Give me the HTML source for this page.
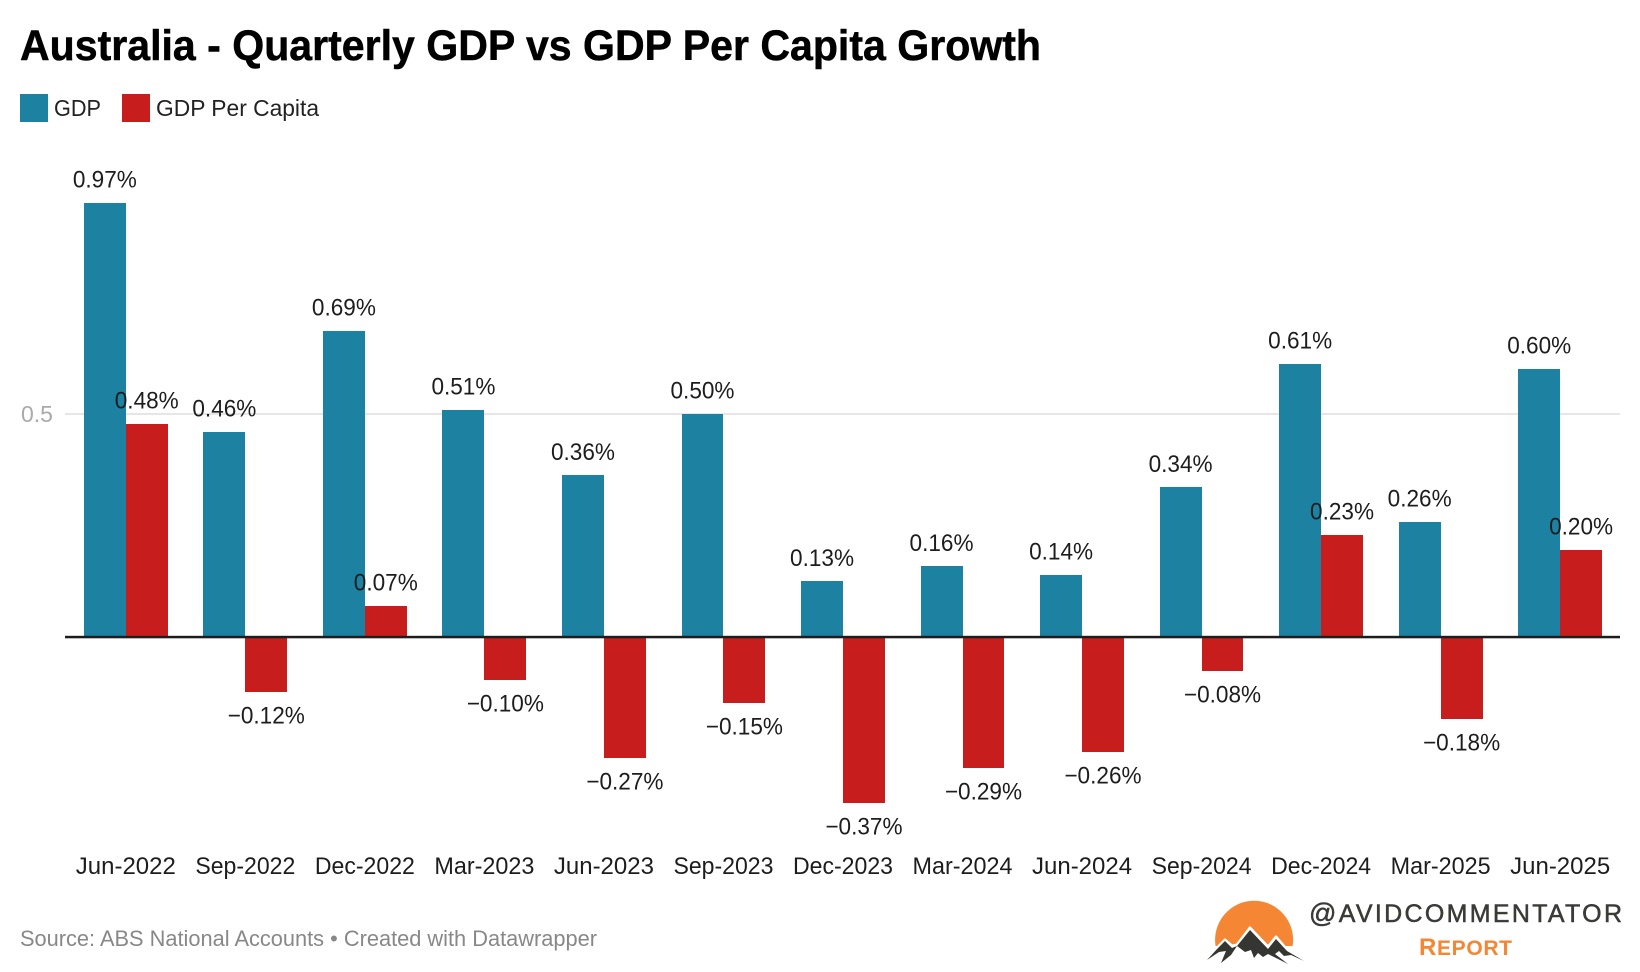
<!DOCTYPE html>
<html lang="en">
<head>
<meta charset="utf-8">
<title>Australia - Quarterly GDP vs GDP Per Capita Growth</title>
<style>
html,body{margin:0;padding:0;background:#fff;width:1640px;height:972px;overflow:hidden}
svg{display:block}
text{font-family:"Liberation Sans",sans-serif}
</style>
</head>
<body>
<svg id="chart" xmlns="http://www.w3.org/2000/svg" width="1640" height="972" viewBox="0 0 1640 972">
  <rect x="0" y="0" width="1640" height="972" fill="#fff"/>
  <text x="20" y="60" font-size="43" font-weight="700" fill="#000" stroke="#000" stroke-width="0.5" textLength="1021" lengthAdjust="spacingAndGlyphs">Australia - Quarterly GDP vs GDP Per Capita Growth</text>
  <g>
    <rect x="20" y="94" width="28" height="28" fill="#1d81a2"/>
    <text x="54" y="116" font-size="23" fill="#222" textLength="47" lengthAdjust="spacingAndGlyphs">GDP</text>
    <rect x="122" y="94" width="28" height="28" fill="#c71e1d"/>
    <text x="156" y="116" font-size="23" fill="#222" textLength="163" lengthAdjust="spacingAndGlyphs">GDP Per Capita</text>
  </g>
  <g id="grid"></g>
  <g id="bars"></g>
  <g id="axis"></g>
  <g id="labels"></g>
  <text x="20" y="946" font-size="22" fill="#888" textLength="577" lengthAdjust="spacingAndGlyphs">Source: ABS National Accounts • Created with Datawrapper</text>
  <g>
    <path d="M1215.6 946 A39 39 0 1 1 1292.6 946 Z" fill="#f58634"/>
    <path d="M1207 960 L1218 947 L1225 940 L1232 946 L1237 945 L1250 928 L1268 947 L1276 937 L1287 950 L1304 961 L1288 964 L1254 958 L1221 963 Z" fill="#fff" stroke="#fff" stroke-width="3" stroke-linejoin="round"/>
    <path d="M1207 960 L1218 948 L1225 941 L1232 948 L1237 946 L1231 955 L1221 963 L1226 951 L1219 952 Z" fill="#353632"/>
    <path d="M1237 946 L1250 930 L1268 949 L1276 939 L1287 951 L1304 961 L1291 955 L1284 956 L1279 951 L1275 954 L1288 964 L1268 954 L1263 957 L1258 953 L1254 958 L1251 950 L1245 952 L1241 949 Z" fill="#353632"/>
    <text x="1309" y="922" fill="#3a3a38" stroke="#3a3a38" stroke-width="0.5" textLength="313" lengthAdjust="spacing"><tspan font-size="27">@</tspan><tspan font-size="25">AVIDCOMMENTATOR</tspan></text>
    <text x="1419" y="955" font-weight="700" fill="#f58634" textLength="93" lengthAdjust="spacing"><tspan font-size="24">R</tspan><tspan font-size="21">EPORT</tspan></text>
  </g>
</svg>
<script>
const categories = ["Jun-2022","Sep-2022","Dec-2022","Mar-2023","Jun-2023","Sep-2023","Dec-2023","Mar-2024","Jun-2024","Sep-2024","Dec-2024","Mar-2025","Jun-2025"];
const gdpValues = [0.973,0.46,0.686,0.509,0.363,0.5,0.125,0.159,0.139,0.336,0.612,0.258,0.601];
const perCapitaValues = [0.478,-0.123,0.07,-0.096,-0.271,-0.148,-0.372,-0.294,-0.258,-0.076,0.229,-0.184,0.196];
const yTicks = [0.5];

const SVG_NS = "http://www.w3.org/2000/svg";
const ZERO_Y = 637;
const UNIT_PX = 446;
const STEP = 119.53;
const FIRST_X = 83.9;
const BAR = 41.9;

function yScale(v){ return ZERO_Y - v * UNIT_PX; }
function xBand(i){ return FIRST_X + STEP * i; }
function fmt(v){ return (v < 0 ? "\u2212" : "") + Math.abs(v).toFixed(2) + "%"; }

function make(tag, parent, attrs){
  const el = document.createElementNS(SVG_NS, tag);
  for (const k in attrs) el.setAttribute(k, attrs[k]);
  parent.appendChild(el);
  return el;
}

function addBar(parent, i, v, series, color, offset){
  const left = Math.round(xBand(i) + offset * BAR);
  const right = Math.round(xBand(i) + (offset + 1) * BAR);
  const yv = Math.round(yScale(v));
  const top = Math.min(yv, ZERO_Y);
  const h = Math.abs(yv - ZERO_Y);
  const el = make("rect", parent, {x:left, y:top, width:right-left, height:h, fill:color, "shape-rendering":"crispEdges"});
  
  
  return el;
}

function addValueLabel(parent, i, v, series, offset){
  const cx = xBand(i) + (offset + 0.5) * BAR;
  const yv = yScale(v);
  const base = v >= 0 ? yv - 15.3 : yv + 31.6;
  const el = make("text", parent, {x:cx, y:base, "font-size":24, fill:"#1d1d1d", "text-anchor":"middle"});
  el.textContent = fmt(v);
  
  
  const w = el.getComputedTextLength();
  el.setAttribute('textLength', (w * 0.94).toFixed(1));
  el.setAttribute('lengthAdjust', 'spacingAndGlyphs');
  return el;
}

const gridG = document.getElementById("grid");
const barsG = document.getElementById("bars");
const axisG = document.getElementById("axis");
const labelsG = document.getElementById("labels");

yTicks.forEach(function(t){
  const line = make("rect", gridG, {x:65, y:yScale(t)-1, width:1555, height:2, fill:"#e6e6e6", "shape-rendering":"crispEdges"});
  
  
  const lab = make("text", gridG, {x:21, y:yScale(t)+8, "font-size":23, fill:"#aaa"});
  lab.textContent = String(t);
  
  
});

categories.forEach(function(c, i){
  addBar(barsG, i, gdpValues[i], 'gdp', '#1d81a2', 0);
  addBar(barsG, i, perCapitaValues[i], 'per-capita', '#c71e1d', 1);
  addValueLabel(labelsG, i, gdpValues[i], 'gdp', 0);
  addValueLabel(labelsG, i, perCapitaValues[i], 'per-capita', 1);
  const tick = make("text", axisG, {x:xBand(i)+BAR, y:874, "font-size":24, fill:"#1d1d1d", "text-anchor":"middle", textLength:100, lengthAdjust:"spacingAndGlyphs"});
  tick.textContent = c;
  
  
});

const baseline = make("rect", axisG, {x:65, y:ZERO_Y-1.2, width:1555, height:2.5, fill:"#1d1d1d"});


</script>
</body>
</html>
